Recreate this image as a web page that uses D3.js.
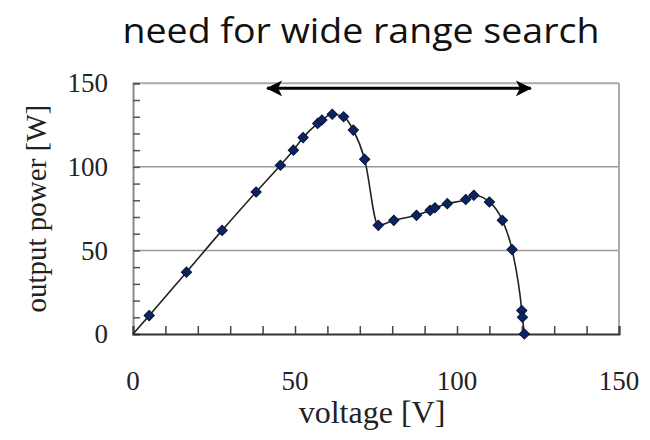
<!DOCTYPE html>
<html>
<head>
<meta charset="utf-8">
<script src="https://cdn.jsdelivr.net/npm/d3@7"></script>
<style>
  html, body { margin: 0; padding: 0; background: #fff; }
  svg { display: block; }
</style>
</head>
<body>
<svg id="chart" width="650" height="440"></svg>
<script>
// ---- data ----
const titleText = "need for wide range search";
const xLabel = "voltage [V]";
const yLabel = "output power [W]";
const lineStart = [0, 0];
const voltage = [5, 16.5, 27.5, 38, 45.5, 49.5, 52.5, 57, 58.3, 61.5, 65, 68, 71.5, 75.7, 80.5, 87.5, 91.7, 93.2, 97, 102.7, 105.2, 110, 114, 117, 120, 120.2, 120.8];
const power   = [11, 37, 62, 85, 101, 110, 117.5, 126, 128, 131.5, 130, 122, 104.5, 65, 68, 71, 74, 75.5, 78, 80.5, 83, 79, 68, 50.5, 14, 10, 0];
const xTickLabels = [0, 50, 100, 150];
const yTickLabels = [0, 50, 100, 150];
const minorStep = 10;
const gridValues = [50, 100];
const arrowVoltage = [41.4, 122.8];
const arrowPower = 147;

// ---- layout ----
const svg = d3.select("#chart");
const x = d3.scaleLinear().domain([0, 150]).range([133, 619]);
const y = d3.scaleLinear().domain([0, 150]).range([334, 83.3]);
const serif = "'Liberation Serif', 'DejaVu Serif', serif";

// gridlines
svg.append("g").selectAll("line").data(gridValues).join("line")
  .attr("x1", x(0)).attr("x2", x(150))
  .attr("y1", d => y(d)).attr("y2", d => y(d))
  .attr("stroke", "#9a9a9a").attr("stroke-width", 1.5);

// top & right frame (light gray)
svg.append("line").attr("x1", x(0)).attr("x2", x(150)).attr("y1", y(150)).attr("y2", y(150))
  .attr("stroke", "#aaaaaa").attr("stroke-width", 2);
svg.append("line").attr("x1", x(150)).attr("x2", x(150)).attr("y1", y(150)).attr("y2", y(0))
  .attr("stroke", "#aaaaaa").attr("stroke-width", 2);

// minor ticks (inward)
const minorX = d3.range(0, 150 + 0.001, minorStep);
const minorY = d3.range(0, 150 + 0.001, minorStep);
const yAxis = d3.axisRight(y).tickValues(minorY).tickSize(7).tickFormat("");
const gy = svg.append("g").attr("transform", `translate(${x(0)},0)`).call(yAxis);
gy.select(".domain").attr("stroke", "#8a8a8a").attr("stroke-width", 2);
gy.selectAll(".tick line").attr("stroke", "#555").attr("stroke-width", 1.5);

const xAxis = d3.axisTop(x).tickValues(minorX).tickSize(8).tickFormat("");
const gx = svg.append("g").attr("transform", `translate(0,${y(0)})`).call(xAxis);
gx.select(".domain").attr("stroke", "#333").attr("stroke-width", 2);
gx.selectAll(".tick line").attr("stroke", "#444").attr("stroke-width", 1.5);

// tick labels
svg.append("g").selectAll("text").data(xTickLabels).join("text")
  .attr("x", d => x(d)).attr("y", 390)
  .attr("text-anchor", "middle")
  .attr("font-family", serif).attr("font-size", 27).attr("fill", "#222")
  .text(d => d);
svg.append("g").selectAll("text").data(yTickLabels).join("text")
  .attr("x", 108).attr("y", d => y(d))
  .attr("dy", "0.34em")
  .attr("text-anchor", "end")
  .attr("font-family", serif).attr("font-size", 27).attr("fill", "#222")
  .text(d => d);

// axis titles
svg.append("text")
  .attr("x", 372).attr("y", 423)
  .attr("text-anchor", "middle")
  .attr("font-family", serif).attr("font-size", 32).attr("fill", "#222")
  .text(xLabel);
svg.append("text")
  .attr("transform", `translate(46,${(y(0) + y(150)) / 2}) rotate(-90)`)
  .attr("text-anchor", "middle")
  .attr("font-family", serif).attr("font-size", 29).attr("fill", "#222")
  .text(yLabel);

// curve
const pts = [lineStart].concat(voltage.map((v, i) => [v, power[i]]));
const line = d3.line().x(d => x(d[0])).y(d => y(d[1])).curve(d3.curveMonotoneX);
svg.append("path").datum(pts)
  .attr("d", line)
  .attr("fill", "none").attr("stroke", "#222").attr("stroke-width", 1.6);

// markers
const diamond = d3.symbol().type(d3.symbolSquare).size(52);
svg.append("g").selectAll("path").data(voltage.map((v, i) => [v, power[i]])).join("path")
  .attr("transform", d => `translate(${x(d[0])},${y(d[1])}) rotate(45)`)
  .attr("d", diamond)
  .attr("fill", "#0c2461").attr("stroke", "#06143a").attr("stroke-width", 1);

// double-headed arrow
const defs = svg.append("defs");
["start", "end"].forEach(k => {
  defs.append("marker")
    .attr("id", "ah-" + k)
    .attr("viewBox", "0 0 16 16")
    .attr("refX", k === "end" ? 15 : 1).attr("refY", 8)
    .attr("markerWidth", 16).attr("markerHeight", 16)
    .attr("markerUnits", "userSpaceOnUse")
    .attr("orient", "auto")
    .append("path")
    .attr("d", k === "end" ? "M0,0 L16,8 L0,16 L4,8 Z" : "M16,0 L0,8 L16,16 L12,8 Z")
    .attr("fill", "#000");
});
svg.append("line")
  .attr("x1", x(arrowVoltage[0])).attr("x2", x(arrowVoltage[1]))
  .attr("y1", y(arrowPower)).attr("y2", y(arrowPower))
  .attr("stroke", "#000").attr("stroke-width", 3)
  .attr("marker-start", "url(#ah-start)").attr("marker-end", "url(#ah-end)");

// title
svg.append("text")
  .attr("x", 361).attr("y", 43)
  .attr("text-anchor", "middle")
  .attr("font-family", "'Open Sans', 'Noto Sans', sans-serif").attr("font-size", 35)
  .attr("textLength", 477).attr("lengthAdjust", "spacingAndGlyphs")
  .attr("fill", "#111")
  .text(titleText);
</script>
</body>
</html>
